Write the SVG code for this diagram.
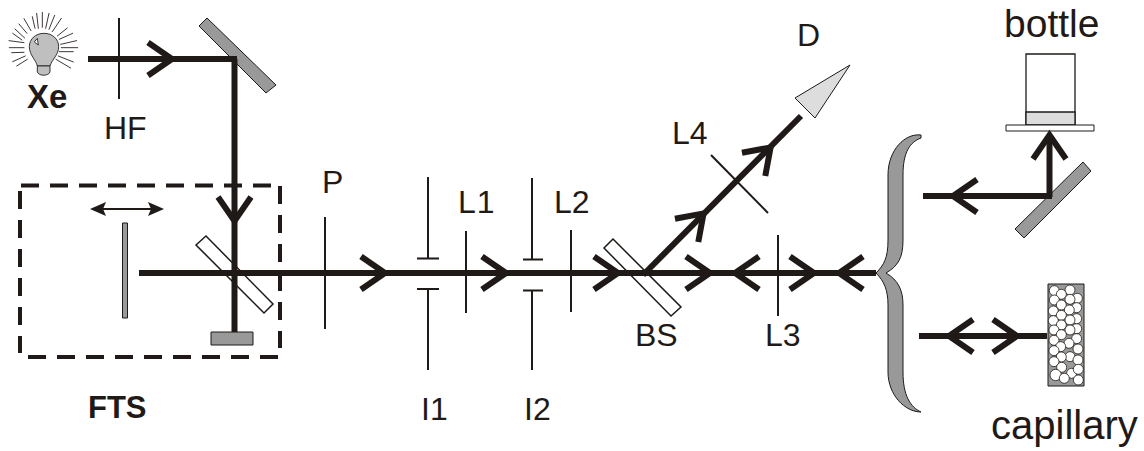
<svg xmlns="http://www.w3.org/2000/svg" xmlns:xlink="http://www.w3.org/1999/xlink" width="1144" height="451" viewBox="0 0 1144 451">
<style>
text{font-family:"Liberation Sans",Arial,sans-serif;font-size:32px;fill:#1f1a17}
.b{font-weight:bold}
.beam{fill:none;stroke:#1f1a17;stroke-width:6}
.thin{fill:none;stroke:#1f1a17;stroke-width:2}
.gray{fill:#999;stroke:#1f1a17;stroke-width:1}
.plate{fill:#fff;stroke:#1f1a17;stroke-width:1.5}
.ray{fill:none;stroke:#1f1a17;stroke-width:2.6;stroke-linecap:round}
.dash{fill:none;stroke:#1f1a17;stroke-width:4;stroke-dasharray:18 11}
</style>
<defs>
<path id="chev" class="beam" stroke-linejoin="miter" d="M-26 -16.500L-2 0L-26 16.500"/>
</defs>
<g id="lamp">
<g transform="scale(.3333)">
<path d="M112 198C108 180 88 165 88 140C88 117 107 100 132 100C157 100 176 117 176 140C176 165 156 178 150 198Z" fill="#bfbfbf" stroke="#1f1a17" stroke-width="2.600"/>
<path d="M112 198H150V216C146 228 118 230 112 216Z" fill="#bfbfbf" stroke="#1f1a17" stroke-width="2.600"/>
<path d="M103 126L112 115L115 135Z" fill="#fff" stroke="#1f1a17" stroke-width="2.600"/>
<path class="ray" d="M74 114L45 87M81 100L57 72M93 92L72 56M105 85L97 50M115 85L110 40M127 82L127 37M137 85L147 40M147 88L164 46M157 95L184 55M172 108L202 84M178 118L218 100M182 133L230 122M184 143L233 143M178 155L220 155M175 168L220 186M168 178L212 204M72 128L27 122M72 143L28 143M72 157L35 158M76 168L38 185M82 178L50 198M66 120L38 100"/>
</g>
<text class="b" x="27" y="108" style="font-size:33px">Xe</text>
</g>
<g id="hf"><path class="thin" d="M119 18V99"/><text x="104" y="139">HF</text></g>
<g id="mirror1"><path class="gray" d="M207 18L199 26L266 93L276 85Z"/></g>
<g id="fts">
<path class="dash" d="M21 185.500H280"/>
<path class="dash" d="M280 186V348"/>
<path class="dash" d="M28 357H278"/>
<path class="dash" d="M20 191V353"/>
<path class="gray" d="M122.500 223H127.500V318H122.500Z"/>
<path class="gray" d="M211 332H253V345H211Z"/>
<path class="thin" d="M102 209H152"/>
<path fill="#1f1a17" d="M90 209L106 202L103 209L106 216Z"/>
<path fill="#1f1a17" d="M164 209L148 202L151 209L148 216Z"/>
<path class="plate" d="M206 236L196 245L264 313L273 304Z"/>
<text class="b" x="88" y="418" style="font-size:31px">FTS</text>
</g>
<g id="p"><path class="thin" d="M325 217V329"/><text x="322" y="193">P</text></g>
<g id="i1"><path class="thin" d="M428 177V258M417 258.500H439M417 289H439M428 289V370"/><text x="421" y="420">I1</text></g>
<g id="l1"><path class="thin" d="M466 231V313"/><text x="458" y="213" letter-spacing="1">L1</text></g>
<g id="i2"><path class="thin" d="M532 178V259.500M523 259.500H543M523 290.500H543M532 290.500V370"/><text x="524" y="420">I2</text></g>
<g id="l2"><path class="thin" d="M571 230V312"/><text x="554" y="213">L2</text></g>
<g id="bs"><path class="plate" d="M613 239L604 248L671 316L681 307Z"/><text x="635" y="346">BS</text></g>
<g id="l3"><path class="thin" d="M778 235V316"/><text x="765" y="346">L3</text></g>
<g id="l4"><path class="thin" d="M711 155L768 213"/><text x="672" y="144">L4</text></g>
<g id="d"><path d="M795 98L850 65L815 118Z" fill="#ddd" stroke="#1f1a17" stroke-width="1"/><text x="797" y="46">D</text></g>
<g id="brace"><path class="gray" d="M921 135C905 133 888 150 888 175V240C888 258 884 265 876 273C884 281 888 290 888 305V372C888 395 905 412 921 412C910 407 903 395 903 372V305C903 290 898 280 886 273C898 266 903 258 903 240V175C903 152 910 142 921 138Z"/></g>
<g id="bottle">
<path d="M1026 54H1075V125H1026Z" fill="#fff" stroke="#1f1a17" stroke-width="1.300"/>
<path d="M1026 112H1075V125H1026Z" fill="#ddd" stroke="#1f1a17" stroke-width="1.300"/>
<path class="plate" style="stroke-width:1" d="M1006 125H1094V131H1006Z"/>
<text x="1004" y="37" style="font-size:39px">bottle</text>
</g>
<g id="mirror2"><path class="gray" d="M1083 162L1091 171L1024 238L1015 229Z"/></g>
<g id="capillary">
<path class="gray" d="M1048 284H1084V386H1048Z"/>
<g transform="translate(860 230) scale(.3333)" fill="#fff" stroke="#1f1a17" stroke-width="2.400">
<circle cx="652" cy="205" r="15"/><circle cx="650" cy="233" r="15"/><circle cx="650" cy="296" r="15"/><circle cx="650" cy="266" r="15"/><circle cx="650" cy="326" r="15"/><circle cx="630" cy="380" r="15"/><circle cx="635" cy="430" r="15"/>
<circle cx="630" cy="180" r="15"/><circle cx="583" cy="182" r="15"/><circle cx="604" cy="193" r="15"/><circle cx="583" cy="210" r="15"/><circle cx="630" cy="208" r="15"/><circle cx="604" cy="225" r="15"/><circle cx="628" cy="240" r="15"/><circle cx="580" cy="243" r="15"/><circle cx="604" cy="256" r="15"/><circle cx="580" cy="272" r="15"/><circle cx="630" cy="270" r="15"/><circle cx="604" cy="285" r="15"/><circle cx="582" cy="300" r="15"/><circle cx="630" cy="300" r="15"/><circle cx="604" cy="314" r="15"/><circle cx="582" cy="331" r="15"/><circle cx="627" cy="340" r="15"/><circle cx="602" cy="350" r="15"/><circle cx="654" cy="357" r="15"/><circle cx="582" cy="362" r="15"/><circle cx="604" cy="381" r="15"/><circle cx="654" cy="390" r="15"/><circle cx="582" cy="395" r="15"/><circle cx="605" cy="412" r="15"/><circle cx="655" cy="418" r="15"/><circle cx="587" cy="435" r="17"/><circle cx="613" cy="445" r="15"/><circle cx="655" cy="450" r="15"/>
</g>
<text x="991" y="439" style="font-size:40px">capillary</text>
</g>
<g id="connectors">
<path class="beam" d="M88 59H237"/>
<path class="beam" d="M234.500 59V332"/>
<path class="beam" d="M139 273H876"/>
<path class="beam" d="M643 275L801 116"/>
<path class="beam" d="M1049.500 140V197"/>
<path class="beam" d="M923 196H1052"/>
<path class="beam" d="M919 336H1047"/>
<use xlink:href="#chev" href="#chev" transform="translate(174 59)"/>
<use xlink:href="#chev" href="#chev" transform="translate(234.500 223) rotate(90)"/>
<use xlink:href="#chev" href="#chev" transform="translate(387 273)"/>
<use xlink:href="#chev" href="#chev" transform="translate(508 273)"/>
<use xlink:href="#chev" href="#chev" transform="translate(620 273)"/>
<use xlink:href="#chev" href="#chev" transform="translate(712 273)"/>
<use xlink:href="#chev" href="#chev" transform="translate(733 273) rotate(180)"/>
<use xlink:href="#chev" href="#chev" transform="translate(816 273)"/>
<use xlink:href="#chev" href="#chev" transform="translate(837 273) rotate(180)"/>
<use xlink:href="#chev" href="#chev" transform="translate(705 212) rotate(-45)"/>
<use xlink:href="#chev" href="#chev" transform="translate(772 146) rotate(-45)"/>
<use xlink:href="#chev" href="#chev" transform="translate(1049.500 133) rotate(-90)"/>
<use xlink:href="#chev" href="#chev" transform="translate(951 196) rotate(180)"/>
<use xlink:href="#chev" href="#chev" transform="translate(947 336) rotate(180)"/>
<use xlink:href="#chev" href="#chev" transform="translate(1019 336)"/>
</g>
</svg>
